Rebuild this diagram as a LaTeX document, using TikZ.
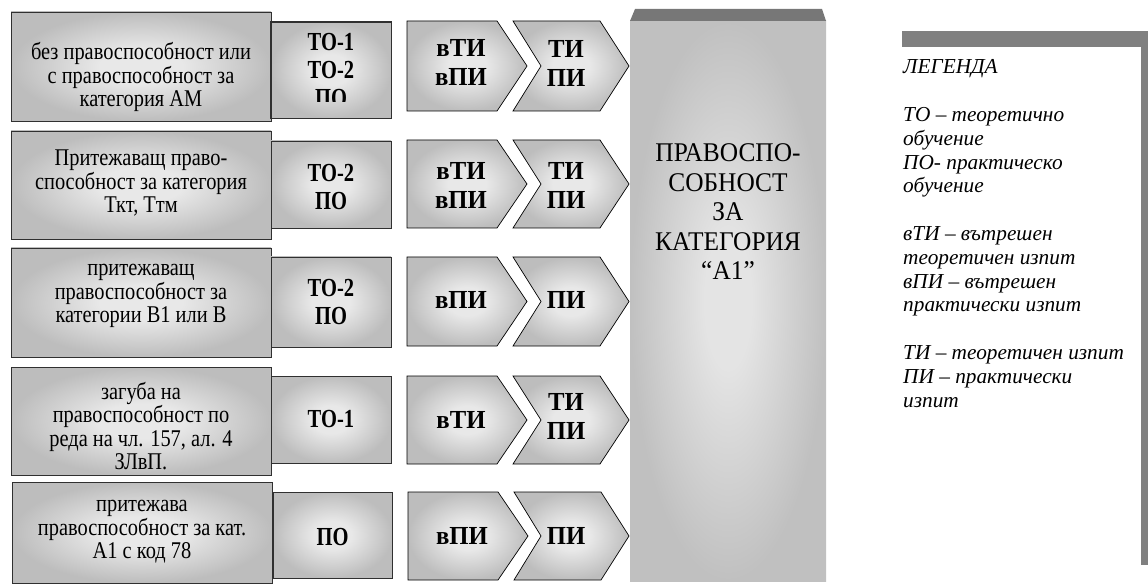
\documentclass[tikz,border=0pt]{standalone}
\usepackage{fontspec}
\setmainfont{Liberation Serif}
\newfontfamily\lfont[FakeStretch=0.85]{Liberation Serif}
\newfontfamily\tfont[FakeStretch=0.79]{Liberation Serif}
\newfontfamily\cfont[FakeStretch=0.95]{Liberation Serif}
\newfontfamily\rfont[FakeStretch=0.94]{Liberation Serif}
\definecolor{boxin}{HTML}{E8E8E8}
\definecolor{boxout}{HTML}{BDBDBD}
\definecolor{bigin}{HTML}{E4E4E4}
\definecolor{bigout}{HTML}{C0C0C0}
\definecolor{bardark}{HTML}{777777}
\definecolor{legbar}{HTML}{808080}
\definecolor{edge}{HTML}{303030}
\pgfdeclareradialshading{boxshade}{\pgfpoint{0bp}{0bp}}{color(0bp)=(boxin);color(8bp)=(boxin);color(25bp)=(boxout);color(50bp)=(boxout)}
\pgfdeclareradialshading{bigshade}{\pgfpoint{0bp}{0bp}}{color(0bp)=(bigin);color(6bp)=(bigin);color(25bp)=(bigout);color(50bp)=(bigout)}
\tikzset{
  lbox/.style={draw=edge, line width=0.9pt, shading=boxshade, inner sep=0pt},
  chev/.style={draw=black, line width=0.7pt, shading=boxshade, line join=miter},
  ltext/.style={align=center, inner sep=0pt, font=\lfont\fontsize{24}{23.5}\selectfont},
  btext/.style={align=center, inner sep=0pt, font=\tfont\bfseries\fontsize{26}{28}\selectfont},
  ctext/.style={align=center, inner sep=0pt, font=\cfont\bfseries\fontsize{26}{29}\selectfont},
  legtext/.style={anchor=base west, inner sep=0pt, font=\itshape\fontsize{21.3}{23.8}\selectfont},
}
\begin{document}
\begin{tikzpicture}[x=1pt,y=-1pt]
\useasboundingbox (0,0) rectangle (1148,585);
% ---------- left boxes ----------
\node[lbox, minimum width=260pt, minimum height=109pt] (l1) at (141,66.5) {};
\node[lbox, minimum width=260pt, minimum height=108pt] (l2) at (141,185) {};
\node[lbox, minimum width=260pt, minimum height=109pt] (l3) at (141,302.5) {};
\node[lbox, minimum width=260pt, minimum height=108pt] (l4) at (141,421) {};
\node[lbox, minimum width=260pt, minimum height=101pt] (l5) at (142,532.5) {};
\node[ltext] (l1t) at (141,77) {без правоспособност или\\с правоспособност за\\категория АМ};
\node[ltext] (l2t) at (141,183) {Притежаващ право-\\способност за категория\\Ткт, Ттм};
\node[ltext] (l3t) at (141,296) {притежаващ\\правоспособност за\\категории В1 или В};
\node[ltext] (l4t) at (141,426) {загуба на\\правоспособност по\\реда на чл. 157, ал. 4\\ЗЛвП.};
\node[ltext] (l5t) at (142,532) {притежава\\правоспособност за кат.\\А1 с код 78};
% ---------- training boxes ----------
\node[lbox, minimum width=120pt, minimum height=96pt] (t1) at (331,70) {};
\begin{scope}
  \clip (271,22) rectangle (391,102);
  \node[btext] (t1t) at (331,70) {ТО-1\\ТО-2\\ПО};
\end{scope}
\draw[draw=edge, line width=0.9pt] (t1.north west) rectangle (t1.south east);
\node[lbox, minimum width=120pt, minimum height=87pt] (t2) at (331,184.5) {};
\node[btext] (t2t) at (331,187.5) {ТО-2\\ПО};
\node[lbox, minimum width=120pt, minimum height=90pt] (t3) at (331,302) {};
\node[btext] (t3t) at (331,302) {ТО-2\\ПО};
\node[lbox, minimum width=120pt, minimum height=87pt] (t4) at (331,419.5) {};
\node[btext] (t4t) at (331,419) {ТО-1};
\node[lbox, minimum width=119pt, minimum height=86pt] (t5) at (332.5,535) {};
\node[btext] (t5t) at (332.5,537) {ПО};
% ---------- chevrons ----------
\draw[chev] (407,21) -- (497,21) -- (527,66) -- (497,111) -- (407,111) -- cycle;
\draw[chev] (513,21) -- (600,21) -- (629,66) -- (600,111) -- (513,111) -- (541,66) -- cycle;
\node[ctext] (a1) at (461,62.5) {вТИ\\вПИ};
\node[ctext] (b1) at (566,63) {ТИ\\ПИ};
\draw[chev] (407,140) -- (497,140) -- (527,184) -- (497,228) -- (407,228) -- cycle;
\draw[chev] (513,140) -- (600,140) -- (629,184) -- (600,228) -- (513,228) -- (541,184) -- cycle;
\node[ctext] (a2) at (461,185) {вТИ\\вПИ};
\node[ctext] (b2) at (566,185) {ТИ\\ПИ};
\draw[chev] (407,257) -- (497,257) -- (527,301.5) -- (497,346) -- (407,346) -- cycle;
\draw[chev] (513,257) -- (600,257) -- (629,301.5) -- (600,346) -- (513,346) -- (541,301.5) -- cycle;
\node[ctext] (a3) at (461,300) {вПИ};
\node[ctext] (b3) at (566,300) {ПИ};
\draw[chev] (407,376) -- (497,376) -- (527,420) -- (497,464) -- (407,464) -- cycle;
\draw[chev] (513,376) -- (600,376) -- (629,420) -- (600,464) -- (513,464) -- (541,420) -- cycle;
\node[ctext] (a4) at (461,420) {вТИ};
\node[ctext] (b4) at (566,416) {ТИ\\ПИ};
\draw[chev] (408,492) -- (498,492) -- (528,536) -- (498,580) -- (408,580) -- cycle;
\draw[chev] (514,492) -- (601,492) -- (629,536) -- (601,580) -- (514,580) -- (541,536) -- cycle;
\node[ctext] (a5) at (462,536) {вПИ};
\node[ctext] (b5) at (566,536) {ПИ};
% ---------- result box ----------
\shade[shading=bigshade] (630,21) rectangle (826,581);
\fill[bardark] (635,9) -- (822,9) -- (826,21) -- (630,21) -- cycle;
\node[align=center, inner sep=0pt, font=\rfont\fontsize{27}{29.5}\selectfont] (res) at (728,212) {ПРАВОСПО-\\СОБНОСТ\\ЗА\\КАТЕГОРИЯ\\“А1”};
% ---------- legend ----------
\fill[legbar] (902,31) rectangle (1148,47);
\fill[legbar] (1141,47) rectangle (1148,565);
\node[legtext] (g0) at (903,74) {ЛЕГЕНДА};
\node[legtext] (g2) at (903,121.6) {ТО – теоретично};
\node[legtext] (g3) at (903,145.4) {обучение};
\node[legtext] (g4) at (903,169.2) {ПО- практическо};
\node[legtext] (g5) at (903,193) {обучение};
\node[legtext] (g7) at (903,240.6) {вТИ – вътрешен};
\node[legtext] (g8) at (903,264.4) {теоретичен изпит};
\node[legtext] (g9) at (903,288.2) {вПИ – вътрешен};
\node[legtext] (g10) at (903,312) {практически изпит};
\node[legtext] (g12) at (903,359.6) {ТИ – теоретичен изпит};
\node[legtext] (g13) at (903,383.4) {ПИ – практически};
\node[legtext] (g14) at (903,407.2) {изпит};
\end{tikzpicture}
\end{document}
